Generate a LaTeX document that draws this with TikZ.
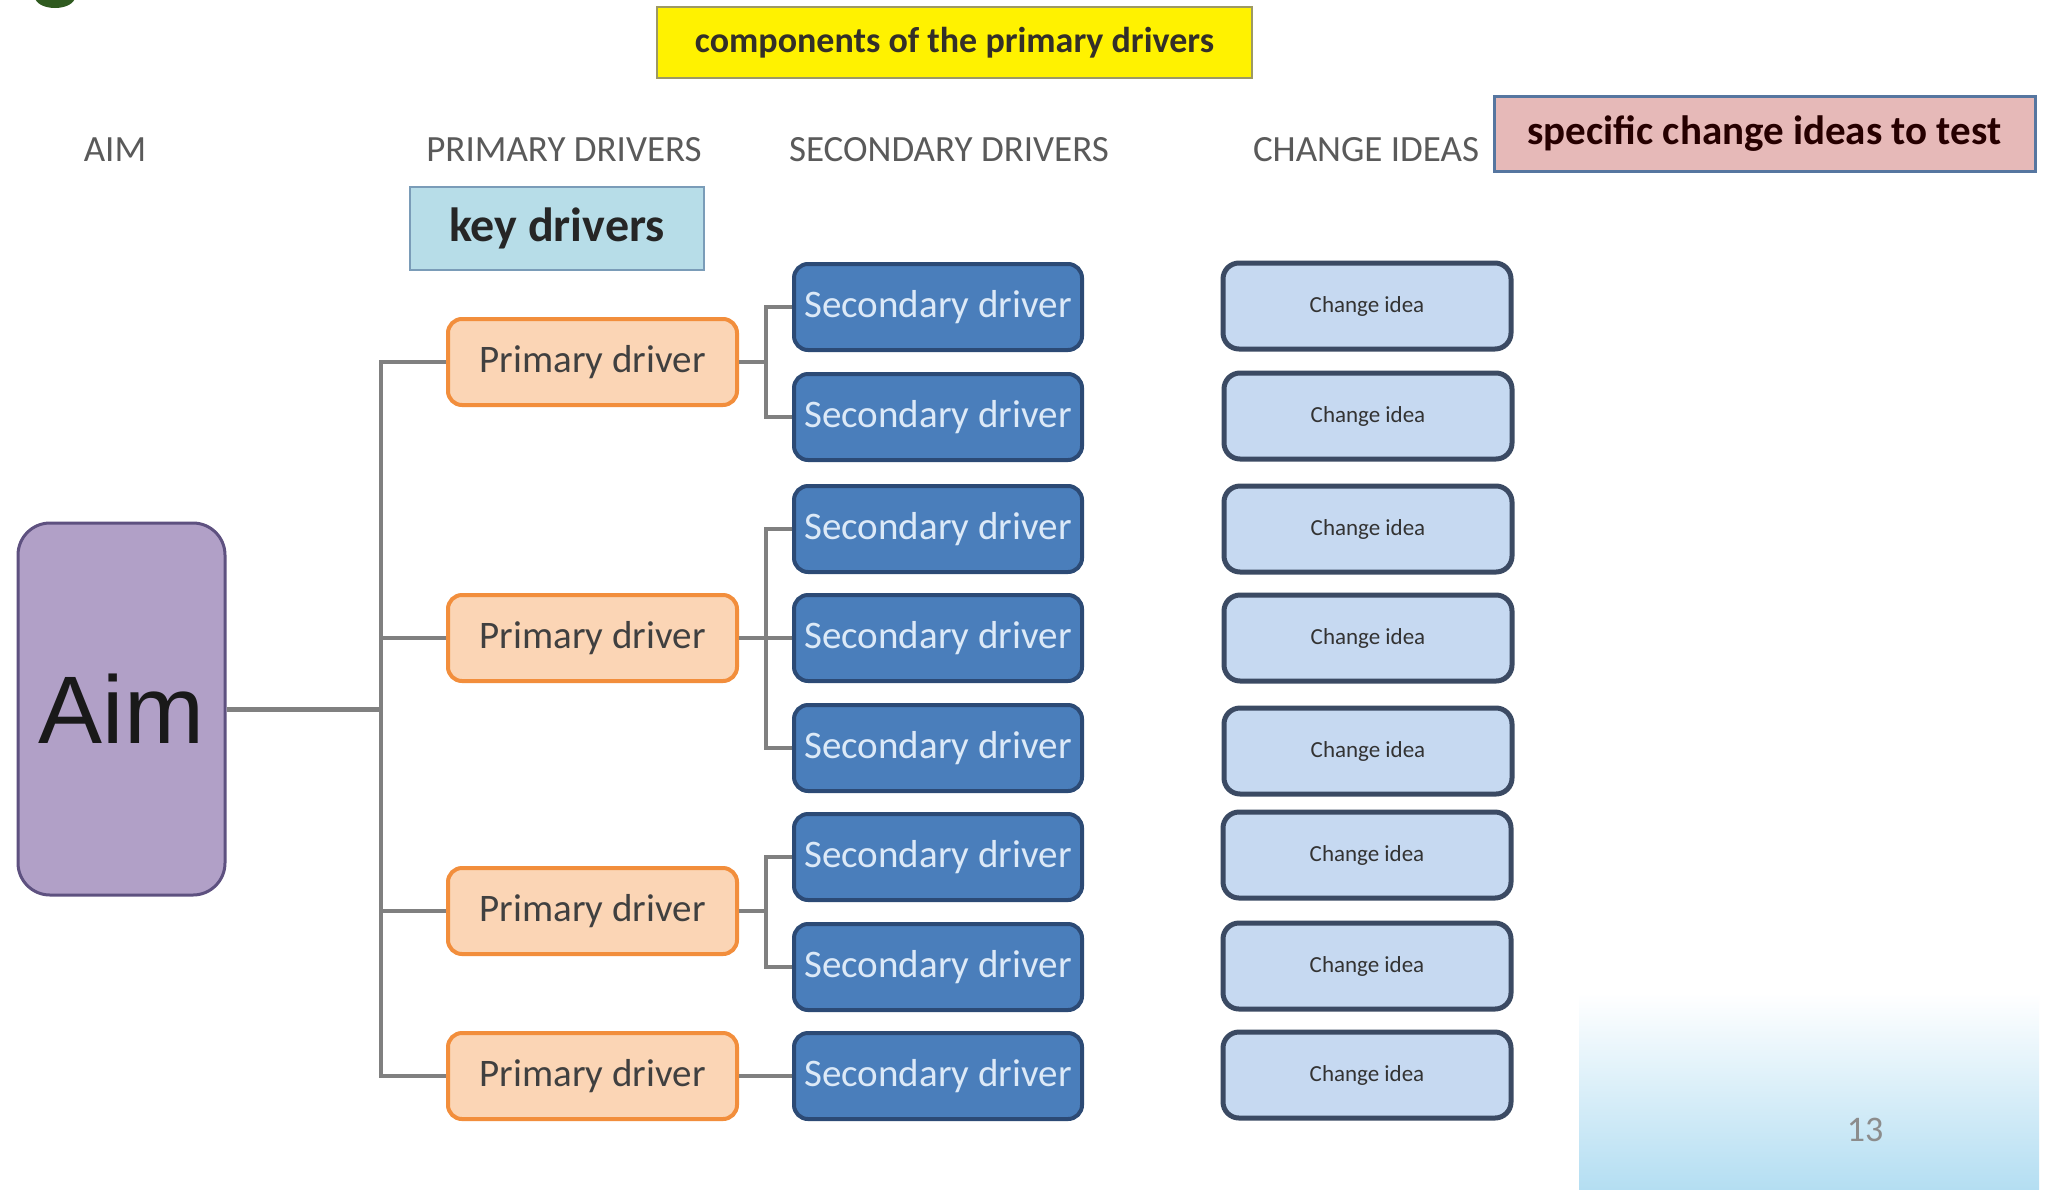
\documentclass[tikz,border=0pt]{standalone}
\usepackage{fontspec}
\setmainfont{Carlito}
\newfontfamily\arialf{Liberation Sans}
\definecolor{primfill}{HTML}{FBD5B5}
\definecolor{primdraw}{HTML}{F28E3C}
\definecolor{secfill}{HTML}{4A7EBB}
\definecolor{secdraw}{HTML}{2C4A75}
\definecolor{sectext}{HTML}{DCE9F7}
\definecolor{chgfill}{HTML}{C6D9F1}
\definecolor{chgdraw}{HTML}{3B4A63}
\definecolor{aimfill}{HTML}{B1A0C7}
\definecolor{aimdraw}{HTML}{5E5180}
\definecolor{connc}{HTML}{808080}
\definecolor{pinkfill}{HTML}{E6B9B8}
\definecolor{pinkdraw}{HTML}{5676A0}
\definecolor{keyfill}{HTML}{B7DDE8}
\definecolor{keydraw}{HTML}{7A9CB8}
\definecolor{hdrc}{HTML}{5A5A5A}
\definecolor{blobc}{HTML}{2F5A1F}
\definecolor{shadec}{HTML}{B4DEF2}
\begin{document}
\begin{tikzpicture}[x=1pt,y=-1pt,
  hdr/.style={text=hdrc,inner sep=0,font=\fontsize{37}{37}\selectfont},
  aimbox/.style={draw=aimdraw,fill=aimfill,line width=3pt,rounded corners=32pt,minimum width=207pt,minimum height=372pt,inner sep=0,font=\arialf\fontsize{96}{96}\selectfont,text=black!90},
  prim/.style={draw=primdraw,fill=primfill,line width=4pt,rounded corners=14pt,minimum width=289pt,minimum height=86pt,inner sep=0,font=\fontsize{39}{39}\selectfont,text=black!75},
  sec/.style={draw=secdraw,fill=secfill,line width=4pt,rounded corners=14pt,minimum width=288pt,minimum height=86pt,inner sep=0,font=\fontsize{39}{39}\selectfont,text=sectext},
  chg/.style={draw=chgdraw,fill=chgfill,line width=5pt,rounded corners=16pt,minimum width=288pt,minimum height=86pt,inner sep=0,font=\fontsize{23}{23}\selectfont,text=black!80},
  conn/.style={draw=connc,line width=4pt},
  tagbox/.style={inner sep=0,font=\bfseries\fontsize{36}{36}\selectfont}
]
\useasboundingbox (0,0) rectangle (2049,1189);
\fill[white] (0,0) rectangle (2049,1189);
% bottom-right shading
\shade[top color=white,bottom color=shadec] (1579,993) rectangle (2039,1189);
\node[font=\fontsize{36}{36}\selectfont,text=black!45,inner sep=0] (pg) at (1865,1130) {13};
% green blob
\fill[blobc] (55,-3) ellipse (20 and 11);

% top labels
\node[tagbox,draw=black!40!yellow!60!gray,line width=2pt,fill=yellow,minimum width=595pt,minimum height=71pt,text=black!85!olive] (comp) at (954.5,42.5) {components of the primary drivers};
\node[tagbox,draw=pinkdraw,line width=3pt,fill=pinkfill,minimum width=541pt,minimum height=75pt,text=black!85!red,font=\bfseries\fontsize{41}{41}\selectfont] (spec) at (1764.5,134) {specific change ideas to test};
\node[tagbox,draw=keydraw,line width=2pt,fill=keyfill,minimum width=294pt,minimum height=83pt,text=black!85,font=\bfseries\fontsize{48}{48}\selectfont] (key) at (557,228.5) {key drivers};

% headers
\node[hdr] (hA) at (115,150) {AIM};
\node[hdr] (hP) at (564,150) {PRIMARY DRIVERS};
\node[hdr] (hS) at (949,150) {SECONDARY DRIVERS};
\node[hdr] (hC) at (1366,150) {CHANGE IDEAS};

% aim
\node[aimbox] (aim) at (121.5,709) {Aim};

% primary drivers
\node[prim] (p1) at (592.5,362) {Primary driver};
\node[prim] (p2) at (592.5,638) {Primary driver};
\node[prim] (p3) at (592.5,911) {Primary driver};
\node[prim] (p4) at (592.5,1076) {Primary driver};

% secondary drivers
\node[sec] (s1) at (938,307) {Secondary driver};
\node[sec] (s2) at (938,417) {Secondary driver};
\node[sec] (s3) at (938,529) {Secondary driver};
\node[sec] (s4) at (938,638) {Secondary driver};
\node[sec] (s5) at (938,748) {Secondary driver};
\node[sec] (s6) at (938,857) {Secondary driver};
\node[sec] (s7) at (938,967) {Secondary driver};
\node[sec] (s8) at (938,1076) {Secondary driver};

% change ideas
\node[chg] (c1) at (1367,306) {Change idea};
\node[chg] (c2) at (1368,416) {Change idea};
\node[chg] (c3) at (1368,529) {Change idea};
\node[chg] (c4) at (1368,638) {Change idea};
\node[chg] (c5) at (1368,751) {Change idea};
\node[chg] (c6) at (1367,855) {Change idea};
\node[chg] (c7) at (1367,966) {Change idea};
\node[chg] (c8) at (1367,1075) {Change idea};

% connectors aim -> primary
\draw[conn,line width=5pt] (aim.east) -- ++(154,0) coordinate (tj);
\draw[conn] (p1.west) -| (tj) |- (p4.west);
\draw[conn] (p2.west) -- (p2.west -| tj);
\draw[conn] (p3.west) -- (p3.west -| tj);

% connectors primary -> secondary
\draw[conn] (p1.east) -- ++(27,0) coordinate (j1);
\draw[conn] (s1.west) -| (j1) |- (s2.west);
\draw[conn] (p2.east) -- (s4.west);
\coordinate (j2) at ([xshift=27pt]p2.east);
\draw[conn] (s3.west) -| (j2) |- (s5.west);
\draw[conn] (p3.east) -- ++(27,0) coordinate (j3);
\draw[conn] (s6.west) -| (j3) |- (s7.west);
\draw[conn] (p4.east) -- (s8.west);
\end{tikzpicture}
\end{document}
